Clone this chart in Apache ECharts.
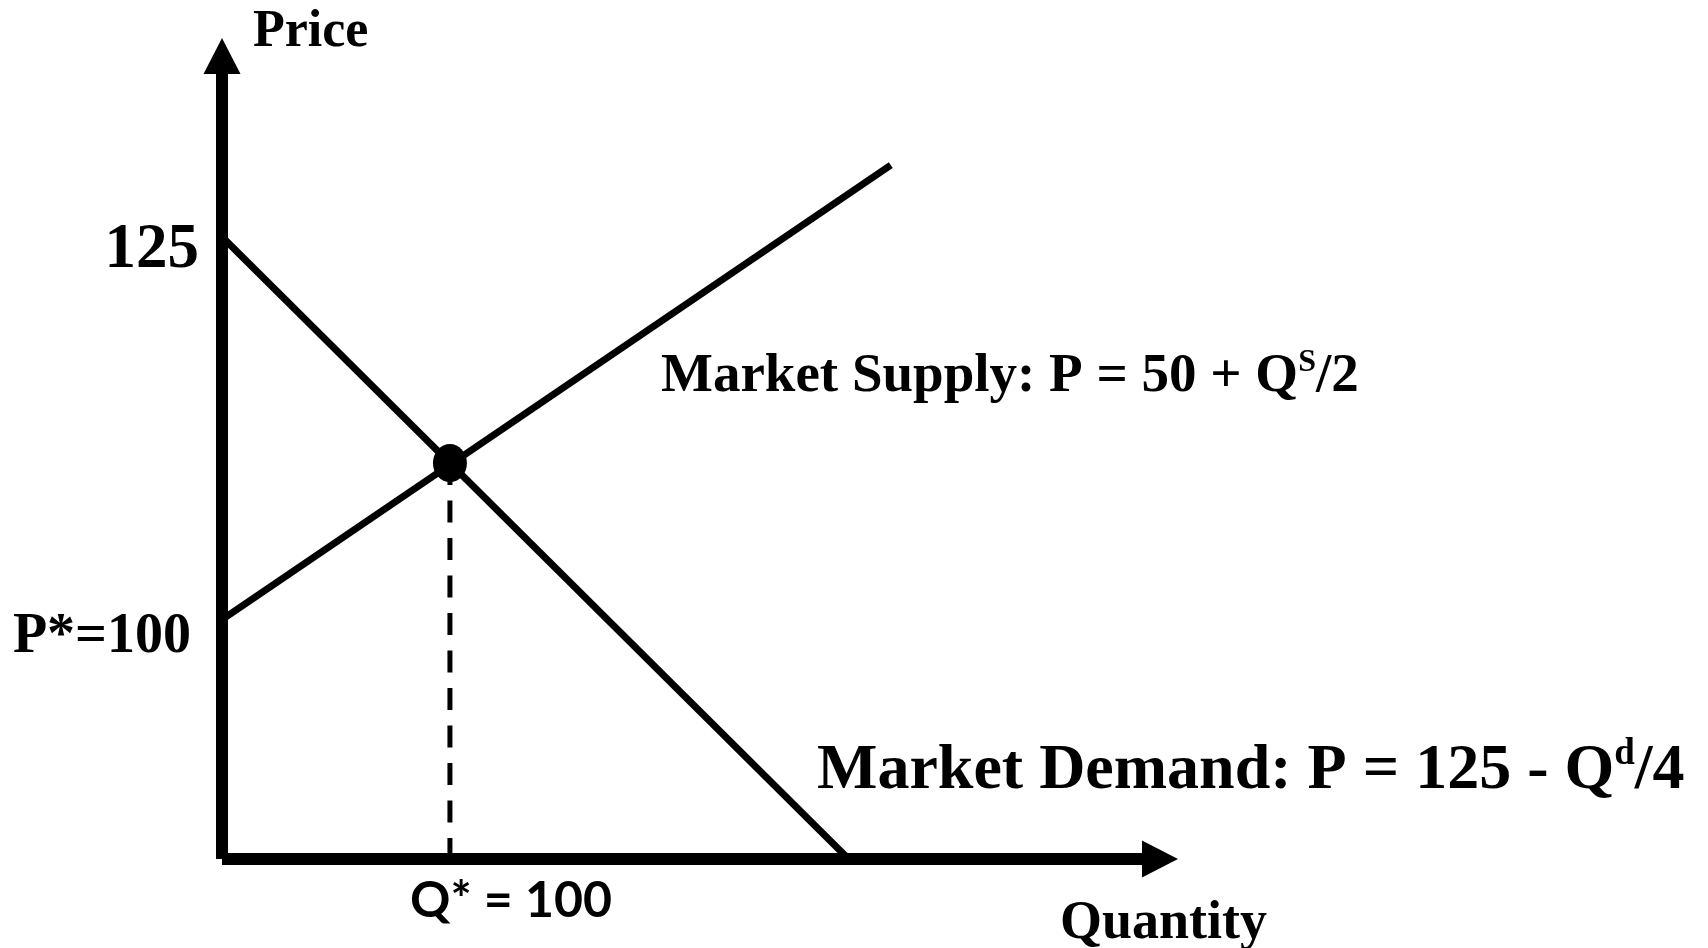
<!DOCTYPE html>
<html><head><meta charset="utf-8">
<script src="https://cdn.jsdelivr.net/npm/echarts@6/dist/echarts.min.js"></script>
<style>html,body{margin:0;padding:0;background:#fff}#c{width:1708px;height:948px}</style>
</head><body><div id="c"></div>
<script>
// Schematic diagram: both axes use 0-100 "diagram units" (no numeric scale shown)
const demandLine = [[0, 77.5], [66.8, 0]];
const supplyLine = [[0, 29.8], [71.3, 86.4]];
const equilibrium = [24.3, 49.3];
const dropLine = [[24.3, 49.3], [24.3, 0]];
const priceTickLabels = ['125', 'P*=100'];
const quantityTickLabels = ['Q* = 100'];
const axisTitles = ['Price', 'Quantity'];
const supplyEquation = ['Market Supply: P = 50 + Q', 'S', '/2'];
const demandEquation = ['Market Demand: P = 125 - Q', 'd', '/4'];

const chart = echarts.init(document.getElementById('c'), null, {renderer: 'canvas'});
const serif = '"Liberation Serif", "Times New Roman", serif';
const axisStyle = {
  show: true,
  symbol: ['none', 'triangle'],
  symbolSize: [37, 36],
  lineStyle: {color: '#000', width: 12, cap: 'butt'}
};
function eqText(parts, size, supSize, supLH) {
  return {
    text: '{m|' + parts[0] + '}{s|' + parts[1] + '}{m|' + parts[2] + '}',
    rich: {
      m: {fontFamily: serif, fontWeight: 'bold', fontSize: size, lineHeight: size + 6, fill: '#000'},
      s: {fontFamily: serif, fontWeight: 'bold', fontSize: supSize, lineHeight: supLH, verticalAlign: 'top', fill: '#000'}
    },
    align: 'left', verticalAlign: 'middle', fill: '#000'
  };
}
chart.setOption({
  animation: false,
  backgroundColor: '#fff',
  grid: {left: 222, right: 548, top: 56, bottom: 89, containLabel: false},
  xAxis: {type: 'value', min: 0, max: 100, axisLine: axisStyle, axisTick: {show: false},
          axisLabel: {show: false}, splitLine: {show: false}},
  yAxis: {type: 'value', min: 0, max: 100, axisLine: axisStyle, axisTick: {show: false},
          axisLabel: {show: false}, splitLine: {show: false}},
  series: [
    {type: 'line', data: demandLine, showSymbol: false, symbol: 'none', z: 3,
     lineStyle: {color: '#000', width: 7, opacity: 1}},
    {type: 'line', data: supplyLine, showSymbol: false, symbol: 'none', z: 3,
     lineStyle: {color: '#000', width: 7, opacity: 1}},
    {type: 'line', data: dropLine, showSymbol: false, symbol: 'none', z: 2,
     lineStyle: {color: '#000', width: 5, type: [22, 15.5], opacity: 1}},
    {type: 'scatter', data: [equilibrium], symbol: 'circle', symbolSize: [34, 38], z: 5,
     itemStyle: {color: '#000', opacity: 1}}
  ],
  graphic: [
    {type: 'text', x: 253, y: 33, style: {text: axisTitles[0], font: 'bold 52px ' + serif, fill: '#000', align: 'left', verticalAlign: 'middle'}},
    {type: 'text', x: 1060, y: 924, style: {text: axisTitles[1], font: 'bold 54px ' + serif, fill: '#000', align: 'left', verticalAlign: 'middle'}},
    {type: 'text', x: 199, y: 251, style: {text: priceTickLabels[0], font: 'bold 63px ' + serif, fill: '#000', align: 'right', verticalAlign: 'middle'}},
    {type: 'text', x: 191, y: 638, style: {text: priceTickLabels[1], font: 'bold 56px ' + serif, fill: '#000', align: 'right', verticalAlign: 'middle'}},
    {type: 'text', x: 511, y: 901, style: {text: quantityTickLabels[0], font: 'bold 50px Lato, "Open Sans", sans-serif', fill: '#000', align: 'center', verticalAlign: 'middle'}},
    {type: 'text', x: 661, y: 377, style: eqText(supplyEquation, 55, 32, 40)},
    {type: 'text', x: 817, y: 771, style: eqText(demandEquation, 64, 37, 47)}
  ]
});
</script></body></html>
